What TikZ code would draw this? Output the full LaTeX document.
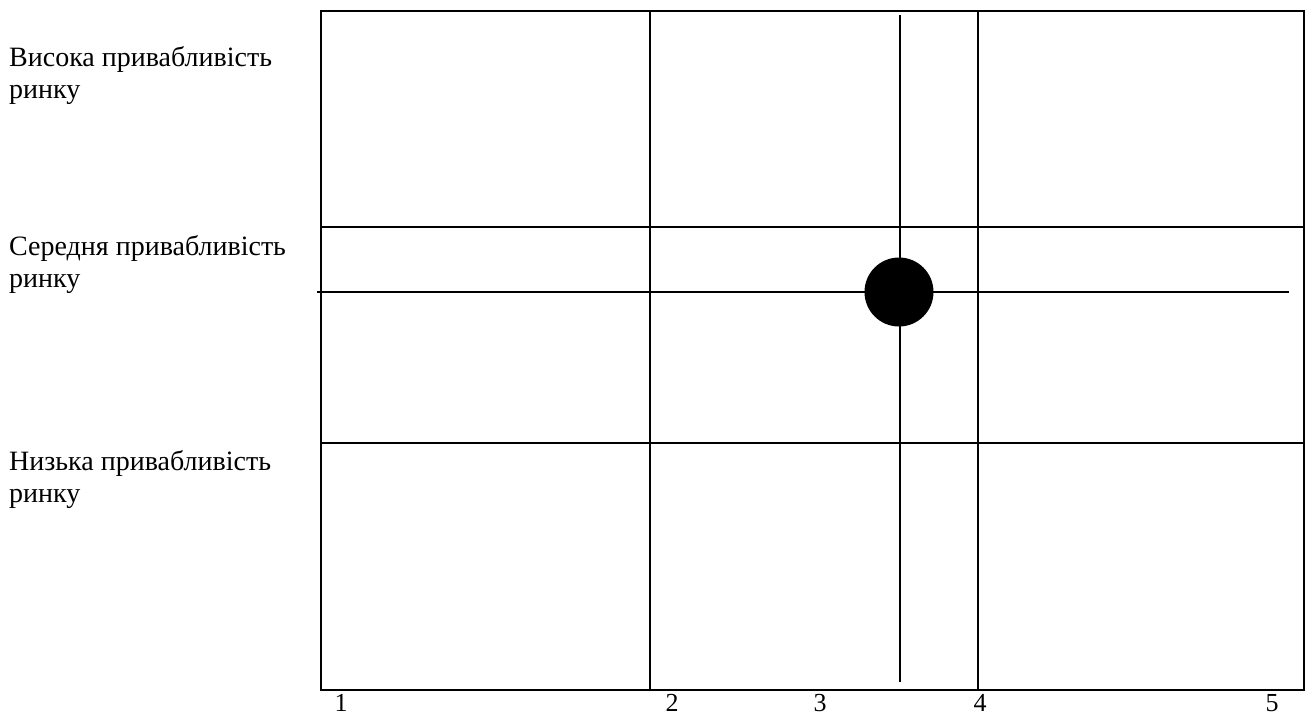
\documentclass[tikz,border=0pt]{standalone}
\usepackage{fontspec}
\setmainfont{Liberation Serif}
\begin{document}
\begin{tikzpicture}[x=1pt,y=-1pt,
  lbl/.style={anchor=base west,inner sep=0pt,align=left,font=\fontsize{28}{32}\selectfont},
  num/.style={anchor=base,inner sep=0pt,font=\fontsize{26}{30}\selectfont},
  frame/.style={line width=2pt},
  grid/.style={line width=1.6pt},
  cross/.style={line width=1.1pt}]
\useasboundingbox (0,0) rectangle (1309,715);
\coordinate (tl) at (321,11);
\coordinate (br) at (1304,690);
\draw[frame] (tl) rectangle (br);
\coordinate (v1t) at (650,11); \coordinate (v1b) at (650,690);
\coordinate (v2t) at (978,11); \coordinate (v2b) at (978,690);
\coordinate (h1l) at (321,227); \coordinate (h1r) at (1304,227);
\coordinate (h2l) at (321,443); \coordinate (h2r) at (1304,443);
\draw[grid] (v1t) -- (v1b);
\draw[grid] (v2t) -- (v2b);
\draw[grid] (h1l) -- (h1r);
\draw[grid] (h2l) -- (h2r);
\coordinate (cl) at (317,292); \coordinate (cr) at (1289,292);
\coordinate (ct) at (900,15); \coordinate (cb) at (900,682);
\draw[cross] (cl) -- (cr);
\draw[cross] (ct) -- (cb);
\node[circle,fill=black,minimum size=69pt,inner sep=0pt] (dot) at (899,292) {};
\node[lbl] (l1) at (9,98) {Висока привабливість\\ринку};
\node[lbl] (l2) at (9,287) {Середня привабливість\\ринку};
\node[lbl] (l3) at (9,502) {Низька привабливість\\ринку};
\node[num] (n1) at (341,711) {1};
\node[num] (n2) at (672,711) {2};
\node[num] (n3) at (820,711) {3};
\node[num] (n4) at (980,711) {4};
\node[num] (n5) at (1272,711) {5};
\end{tikzpicture}
\end{document}
